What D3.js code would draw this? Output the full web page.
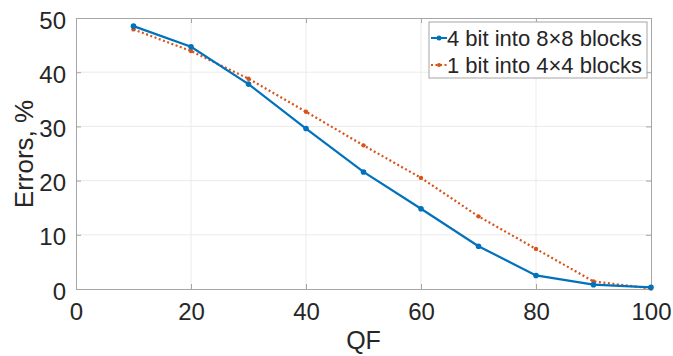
<!DOCTYPE html>
<html>
<head>
<meta charset="utf-8">
<script src="https://d3js.org/d3.v7.min.js"></script>
<style>
  body { margin: 0; background: #fff; }
  svg text { font-family: "Liberation Sans", Arial, sans-serif; fill: #262626; }
</style>
</head>
<body>
<div id="chart"></div>
<script>
// chart data
const qf = [10, 20, 30, 40, 50, 60, 70, 80, 90, 100];
const errors8x8 = [48.5, 44.7, 37.8, 29.6, 21.6, 14.8, 7.9, 2.5, 0.8, 0.3];
const errors4x4 = [47.9, 43.9, 38.8, 32.7, 26.5, 20.5, 13.4, 7.4, 1.4, 0.1];
const xTicks = [0, 20, 40, 60, 80, 100];
const yTicks = [0, 10, 20, 30, 40, 50];
const seriesNames = ["4 bit into 8\u00d78 blocks", "1 bit into 4\u00d74 blocks"];

let margin = {top: 18, right: 22, bottom: 67, left: 76},
    width = 673 - margin.left - margin.right,
    height = 356 - margin.top - margin.bottom;

let svg = d3.select("#chart").append("svg")
    .attr("width", 673)
    .attr("height", 356)
  .append("g")
    .attr("transform", "translate(" + margin.left + "," + margin.top + ")");

let x = d3.scaleLinear().domain([0, 100]).range([0, width]);
let y = d3.scaleLinear().domain([0, 50]).range([height, 0]);

// grid
svg.append("g").selectAll("line").data(xTicks.slice(1, -1)).join("line")
    .attr("x1", d => x(d)).attr("x2", d => x(d))
    .attr("y1", 0).attr("y2", height)
    .attr("stroke", "#ebebeb");
svg.append("g").selectAll("line").data(yTicks.slice(1, -1)).join("line")
    .attr("y1", d => y(d)).attr("y2", d => y(d))
    .attr("x1", 0).attr("x2", width)
    .attr("stroke", "#ebebeb");

// axes (ticks point inward like matlab)
let xAxis = svg.append("g")
    .attr("transform", "translate(0," + height + ")")
    .call(d3.axisBottom(x).tickValues(xTicks).tickSizeInner(-5).tickSizeOuter(0));
let yAxis = svg.append("g")
    .call(d3.axisLeft(y).tickValues(yTicks).tickSizeInner(-5).tickSizeOuter(0).tickPadding(10));
svg.append("g")
    .call(d3.axisTop(x).tickValues(xTicks).tickSizeInner(-5).tickSizeOuter(0).tickFormat(""));
svg.append("g")
    .attr("transform", "translate(" + width + ",0)")
    .call(d3.axisRight(y).tickValues(yTicks).tickSizeInner(-5).tickSizeOuter(0).tickFormat(""));

svg.selectAll(".domain").attr("stroke", "#a6a6a6");
svg.selectAll(".tick line").attr("stroke", "#a6a6a6");
svg.selectAll(".tick text").style("font-size", "24px").attr("fill", "#262626");
xAxis.selectAll(".tick text").attr("y", 14).attr("dy", "0.72em");
yAxis.selectAll(".tick text").attr("dy", "0.42em");

// lines
let line = d3.line().x((d, i) => x(qf[i])).y(d => y(d));

svg.append("path").datum(errors4x4)
    .attr("fill", "none")
    .attr("stroke", "#D95319")
    .attr("stroke-width", 2.2)
    .attr("stroke-dasharray", "2,2.5")
    .attr("d", line);
svg.append("g").selectAll("circle").data(errors4x4).join("circle")
    .attr("cx", (d, i) => x(qf[i])).attr("cy", d => y(d))
    .attr("r", 2.2).attr("fill", "#D95319");

svg.append("path").datum(errors8x8)
    .attr("fill", "none")
    .attr("stroke", "#0072BD")
    .attr("stroke-width", 2.2)
    .attr("d", line);
svg.append("g").selectAll("circle").data(errors8x8).join("circle")
    .attr("cx", (d, i) => x(qf[i])).attr("cy", d => y(d))
    .attr("r", 2.8).attr("fill", "#0072BD");

// axis labels
svg.append("text")
    .attr("x", width / 2).attr("y", 349 - margin.top)
    .attr("text-anchor", "middle")
    .style("font-size", "25px")
    .text("QF");
svg.append("text")
    .attr("transform", "translate(" + (33 - margin.left) + "," + (154 - margin.top) + ") rotate(-90)")
    .attr("text-anchor", "middle")
    .style("font-size", "26px")
    .text("Errors, %");

// legend
let legend = svg.append("g").attr("transform", "translate(" + (429 - margin.left) + "," + (22 - margin.top) + ")");
legend.append("rect")
    .attr("width", 218).attr("height", 56)
    .attr("fill", "#fff").attr("stroke", "#a6a6a6");
const legColors = ["#0072BD", "#D95319"];
seriesNames.forEach(function (name, i) {
    let ly = 16 + i * 27;
    legend.append("line")
        .attr("x1", 2).attr("x2", 18).attr("y1", ly).attr("y2", ly)
        .attr("stroke", legColors[i]).attr("stroke-width", 2)
        .attr("stroke-dasharray", i === 1 ? "2,2.5" : null);
    legend.append("circle").attr("cx", 10).attr("cy", ly).attr("r", i === 0 ? 2.5 : 2).attr("fill", legColors[i]);
    legend.append("text")
        .attr("x", 18).attr("y", ly).attr("dy", "0.36em")
        .style("font-size", "22px")
        .text(name);
});
</script>
</body>
</html>
